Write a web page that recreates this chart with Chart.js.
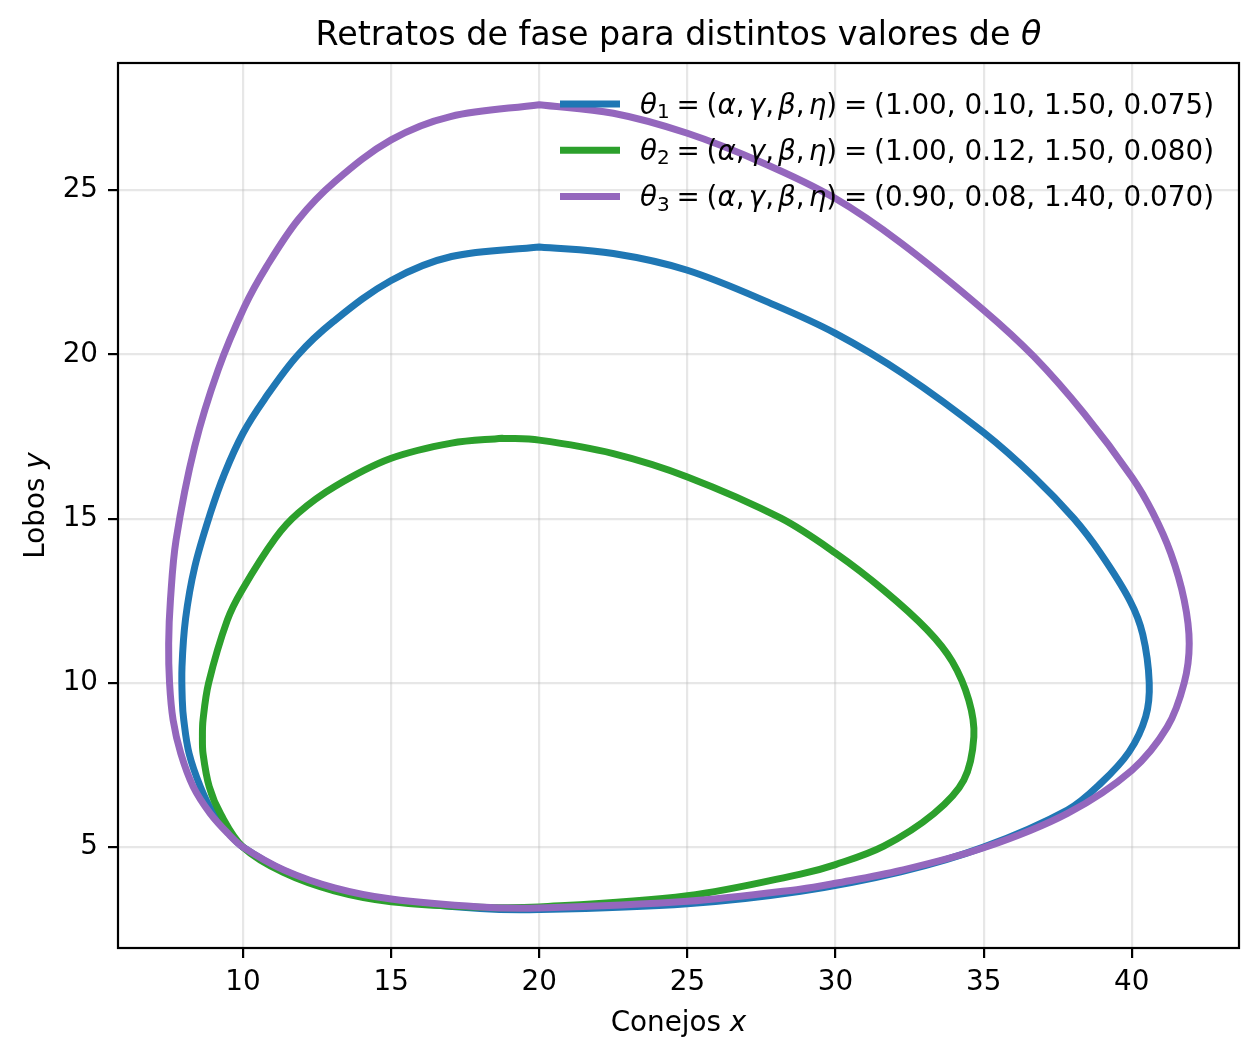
<!DOCTYPE html>
<html>
<head>
<meta charset="utf-8">
<script src="https://cdn.jsdelivr.net/npm/chart.js@4.4.1/dist/chart.umd.min.js"></script>
<style>
  html, body { margin: 0; padding: 0; background: #fff; }
  #chart { display: block; }
</style>
</head>
<body>
<canvas id="chart" width="1260" height="1060"></canvas>
<script>
// Closed orbits, walked counter-clockwise from the top.
const theta1X = [20.0, 17.04, 15.0, 13.05, 11.83, 10.72, 10.0, 9.38, 8.9, 8.37, 8.06, 7.94, 7.95, 8.0, 8.18, 8.56, 9.0, 9.53, 10.0, 11.38, 13.09, 15.0, 18.0, 20.0, 25.0, 28.82, 32.2, 35.0, 37.83, 38.95, 39.91, 40.47, 40.59, 40.37, 39.94, 38.95, 38.05, 36.7, 35.0, 32.3, 30.0, 27.95, 25.0, 22.5, 20.0];
const theta1Y = [23.27, 22.98, 22.25, 21.0, 19.96, 18.63, 17.6, 16.38, 15.17, 13.53, 11.95, 10.49, 9.47, 8.87, 7.85, 6.84, 6.03, 5.41, 5.0, 4.28, 3.73, 3.39, 3.13, 3.10, 3.28, 3.66, 4.25, 5.0, 6.13, 6.94, 7.90, 8.97, 10.0, 11.48, 12.5, 13.94, 15.0, 16.27, 17.62, 19.4, 20.64, 21.5, 22.56, 23.07, 23.27];

const theta2X = [18.75, 17.04, 14.98, 13.1, 11.86, 11.10, 9.97, 9.47, 8.84, 8.65, 8.63, 8.65, 8.86, 9.25, 10.0, 11.36, 13.08, 15.0, 18.0, 20.0, 25.0, 28.82, 30.0, 31.63, 33.32, 34.33, 34.67, 34.5, 33.94, 33.1, 31.63, 30.0, 28.14, 25.0, 22.5, 20.0, 18.75];
const theta2Y = [17.45, 17.3, 16.83, 15.98, 15.17, 14.42, 12.83, 11.91, 10.0, 8.87, 8.36, 7.85, 6.84, 6.0, 5.0, 4.23, 3.67, 3.34, 3.17, 3.18, 3.52, 4.18, 4.47, 5.03, 6.02, 7.04, 8.36, 9.47, 10.65, 11.61, 12.82, 13.95, 15.02, 16.27, 16.98, 17.39, 17.45];

const theta3X = [20.0, 17.0, 15.0, 13.1, 11.86, 10.8, 10.05, 9.16, 8.37, 7.74, 7.55, 7.49, 7.52, 7.64, 7.9, 8.32, 8.89, 9.5, 10.0, 11.39, 13.09, 15.0, 18.0, 20.0, 25.0, 28.8, 30.0, 32.2, 35.0, 37.83, 40.0, 41.2, 41.77, 41.94, 41.77, 41.32, 40.7, 40.0, 38.39, 36.7, 35.0, 32.2, 29.97, 27.57, 25.0, 22.5, 20.0];
const theta3Y = [27.6, 27.24, 26.53, 25.26, 24.1, 22.68, 21.45, 19.53, 17.2, 14.35, 12.52, 11.2, 10.0, 8.87, 7.85, 6.84, 6.03, 5.41, 5.0, 4.3, 3.76, 3.42, 3.18, 3.15, 3.35, 3.72, 3.9, 4.29, 4.98, 6.03, 7.34, 8.66, 10.0, 11.2, 12.52, 13.94, 15.2, 16.27, 18.2, 19.93, 21.35, 23.4, 24.76, 25.82, 26.73, 27.34, 27.6];

// (alpha, gamma, beta, eta) as printed in the legend
const theta1Params = ['1.00', '0.10', '1.50', '0.075'];
const theta2Params = ['1.00', '0.12', '1.50', '0.080'];
const theta3Params = ['0.90', '0.08', '1.40', '0.070'];

const xTicks = [10, 15, 20, 25, 30, 35, 40];
const yTicks = [5, 10, 15, 20, 25];

const COLORS = { blue: '#1f77b4', green: '#2ca02c', purple: '#9467bd' };
const FAMILY = '"DejaVu Sans", sans-serif';
const FS = 27.8;

function toPoints(xs, ys) {
  return xs.map((x, i) => ({ x, y: ys[i] }));
}

// mathtext-like pieces; gap = relative spacing weight placed before the piece
function legendMath(k) {
  const REL = 1, THIN = 0.6;
  return [
    { t: '\u03b8', it: true }, { t: String(k), sub: true },
    { t: '=', gap: REL }, { t: '(', gap: REL },
    { t: '\u03b1', it: true }, { t: ',' },
    { t: '\u03b3', it: true, gap: THIN }, { t: ',' },
    { t: '\u03b2', it: true, gap: THIN }, { t: ',' },
    { t: '\u03b7', it: true, gap: THIN }, { t: ')' },
    { t: '=', gap: REL }, { t: '', gap: REL },
  ];
}

function setFont(ctx, r, size) {
  const s = r.sub ? size * 0.72 : size;
  ctx.font = `${r.it ? 'italic ' : ''}${s}px ${FAMILY}`;
}

function runsWidth(ctx, runs, size) {
  let w = 0;
  for (const r of runs) { setFont(ctx, r, size); w += ctx.measureText(r.t).width; }
  return w;
}

function drawRuns(ctx, x, y, runs, size, gapPx = 0) {
  for (const r of runs) {
    x += (r.gap || 0) * gapPx;
    setFont(ctx, r, size);
    ctx.fillText(r.t, x, y + (r.sub ? size * 0.16 : 0));
    x += ctx.measureText(r.t).width;
  }
  return x;
}

const decorations = {
  id: 'decorations',
  afterDraw(chart) {
    const { ctx, chartArea: a } = chart;
    const cx = (a.left + a.right) / 2;
    ctx.save();
    ctx.fillStyle = '#000';
    ctx.textBaseline = 'alphabetic';
    ctx.textAlign = 'left';

    // axes frame
    ctx.strokeStyle = '#000';
    ctx.lineWidth = 2.2;
    ctx.strokeRect(a.left, a.top, a.right - a.left, a.bottom - a.top);

    // title
    const title = [{ t: 'Retratos de fase para distintos valores de ' }, { t: '\u03b8', it: true }];
    drawRuns(ctx, cx - runsWidth(ctx, title, 33.3) / 2, 45, title, 33.3);

    // x label
    const xl = [{ t: 'Conejos ' }, { t: 'x', it: true }];
    drawRuns(ctx, cx - runsWidth(ctx, xl, FS) / 2, 1031, xl, FS);

    // y label
    const yl = [{ t: 'Lobos ' }, { t: 'y', it: true }];
    ctx.save();
    ctx.translate(43.5, (a.top + a.bottom) / 2);
    ctx.rotate(-Math.PI / 2);
    drawRuns(ctx, -runsWidth(ctx, yl, FS) / 2, 0, yl, FS);
    ctx.restore();

    // legend, no frame: handle 560-620, text from 640, right edge at 1214
    const entries = [
      { color: COLORS.blue, k: 1, params: theta1Params },
      { color: COLORS.green, k: 2, params: theta2Params },
      { color: COLORS.purple, k: 3, params: theta3Params },
    ];
    entries.forEach((e, i) => {
      const y = 104 + i * 46.3;
      ctx.strokeStyle = e.color;
      ctx.lineWidth = 7;
      ctx.lineCap = 'butt';
      ctx.beginPath();
      ctx.moveTo(560, y);
      ctx.lineTo(620, y);
      ctx.stroke();

      ctx.fillStyle = '#000';
      const plain = [{ t: '(' + e.params.join(', ') + ')' }];
      const plainX = 1214 - runsWidth(ctx, plain, FS);
      const math = legendMath(e.k);
      const glyphs = runsWidth(ctx, math, FS);
      const weight = math.reduce((s, r) => s + (r.gap || 0), 0);
      const gapPx = Math.max(0, (plainX - 640 - glyphs) / weight);
      drawRuns(ctx, 640, y + 9.5, math, FS, gapPx);
      drawRuns(ctx, plainX, y + 9.5, plain, FS);
    });
    ctx.restore();
  },
};

function lineSet(label, xs, ys, color, order) {
  return {
    label,
    data: toPoints(xs, ys),
    showLine: true,
    borderColor: color,
    backgroundColor: color,
    borderWidth: 7,
    pointRadius: 0,
    pointHoverRadius: 0,
    tension: 0.35,
    fill: false,
    borderJoinStyle: 'round',
    borderCapStyle: 'round',
    order,
  };
}

const gridOpts = {
  color: 'rgba(176,176,176,0.3)',
  lineWidth: 2.2,
  drawTicks: true,
  tickLength: 10,
  tickColor: '#000',
  tickWidth: 2.2,
};

new Chart(document.getElementById('chart').getContext('2d'), {
  type: 'scatter',
  data: {
    datasets: [
      lineSet('theta1', theta1X, theta1Y, COLORS.blue, 3),
      lineSet('theta2', theta2X, theta2Y, COLORS.green, 2),
      lineSet('theta3', theta3X, theta3Y, COLORS.purple, 1),
    ],
  },
  options: {
    responsive: false,
    animation: false,
    devicePixelRatio: 1,
    layout: { padding: { top: 63, right: 21, bottom: 0, left: 0 } },
    plugins: {
      legend: { display: false },
      title: { display: false },
      tooltip: { enabled: false },
    },
    scales: {
      x: {
        type: 'linear',
        min: 5.78,
        max: 43.62,
        afterBuildTicks: (s) => { s.ticks = xTicks.map((v) => ({ value: v })); },
        afterFit: (s) => { s.height = 112; },
        border: { display: false },
        grid: gridOpts,
        ticks: { color: '#000', font: { family: FAMILY, size: FS }, padding: 8, maxRotation: 0, autoSkip: false },
      },
      y: {
        type: 'linear',
        min: 1.93,
        max: 28.87,
        afterBuildTicks: (s) => { s.ticks = yTicks.map((v) => ({ value: v })); },
        afterFit: (s) => { s.width = 118; },
        border: { display: false },
        grid: gridOpts,
        ticks: { color: '#000', font: { family: FAMILY, size: FS }, padding: 10, autoSkip: false },
      },
    },
  },
  plugins: [decorations],
});
</script>
</body>
</html>
